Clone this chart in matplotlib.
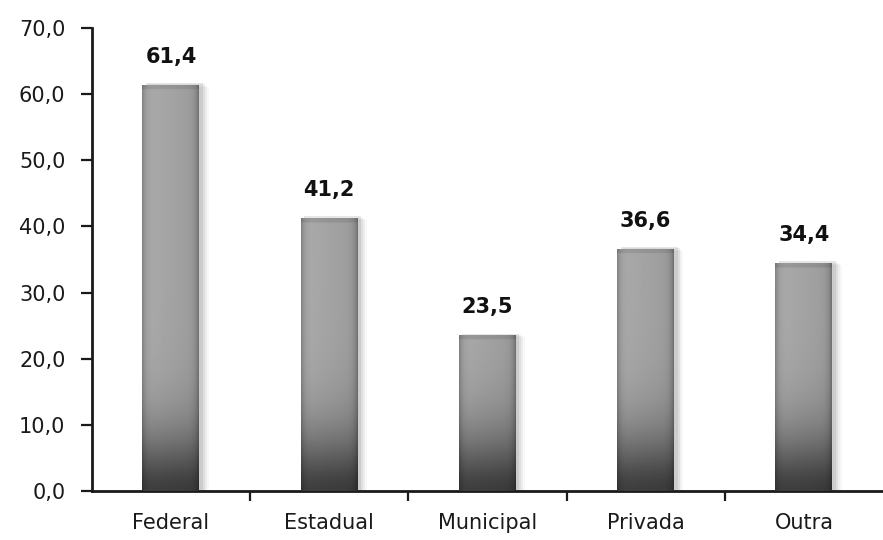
import matplotlib.pyplot as plt
import numpy as np
from matplotlib.patches import Rectangle
from matplotlib.ticker import FuncFormatter

categorias = ["Federal", "Estadual", "Municipal", "Privada", "Outra"]
valores = [61.4, 41.2, 23.5, 36.6, 34.4]
yticks = [0, 10, 20, 30, 40, 50, 60, 70]


def virgula(v, pos=None):
    return f"{v:.1f}".replace(".", ",")


def gradiente(altura, ny=300, nx=60):
    # escuro na base, claro no topo, bordas laterais um pouco mais escuras
    y = np.linspace(0, altura, ny)
    vert = 0.24 + 0.40 * (1 - np.exp(-(y / 9.0) ** 1.6))
    vert[y > altura - 0.6] -= 0.06
    x = np.linspace(-1, 1, nx)
    horiz = 1.0 - 0.25 * np.abs(x) ** 8 - 0.05 * x
    return np.outer(vert, horiz)


def main():
    plt.rcParams["font.family"] = ["DejaVu Sans"]
    fig = plt.figure(figsize=(8.83, 5.4), dpi=100)
    ax = fig.add_axes([0.104, 0.091, 0.896, 0.857])

    x = np.arange(len(categorias))
    largura = 0.36
    bars = ax.bar(x, valores, width=largura, color="none", zorder=3)

    for b, v in zip(bars, valores):
        x0 = b.get_x()
        w = b.get_width()
        # sombra suave à direita
        for k, a in enumerate([0.22, 0.16, 0.10, 0.06]):
            off = 0.012 * (k + 1)
            ax.add_patch(Rectangle((x0 + off + 0.01, 0), w, v + 0.3 - 0.2 * k,
                                   color="#909090", alpha=a, lw=0, zorder=2))
        ax.imshow(gradiente(v), extent=(x0, x0 + w, 0, v), origin="lower",
                  cmap="gray", vmin=0, vmax=1, aspect="auto", zorder=3,
                  interpolation="bilinear")
        ax.annotate(virgula(v), (b.get_x() + w / 2, v), xytext=(0, 13),
                    textcoords="offset points", ha="center", va="bottom",
                    fontsize=15, fontweight="bold", color="#111111")

    ax.set_xlim(-0.5, len(categorias) - 0.5)
    ax.set_ylim(0, 70)
    ax.set_yticks(yticks)
    ax.yaxis.set_major_formatter(FuncFormatter(virgula))
    ax.set_xticks(x)
    ax.set_xticklabels(categorias)
    ax.set_xticks(x[:-1] + 0.5, minor=True)

    for s in ["top", "right"]:
        ax.spines[s].set_visible(False)
    for s in ["left", "bottom"]:
        ax.spines[s].set_linewidth(2)
        ax.spines[s].set_color("#1a1a1a")

    ax.tick_params(axis="y", length=8, width=1.6, labelsize=15, pad=11,
                   colors="#1a1a1a")
    ax.tick_params(axis="x", which="major", length=0, labelsize=15, pad=16,
                   colors="#1a1a1a")
    ax.tick_params(axis="x", which="minor", length=7, width=1.6,
                   colors="#1a1a1a")

    fig.savefig("out.png", dpi=100)


if __name__ == "__main__":
    main()
